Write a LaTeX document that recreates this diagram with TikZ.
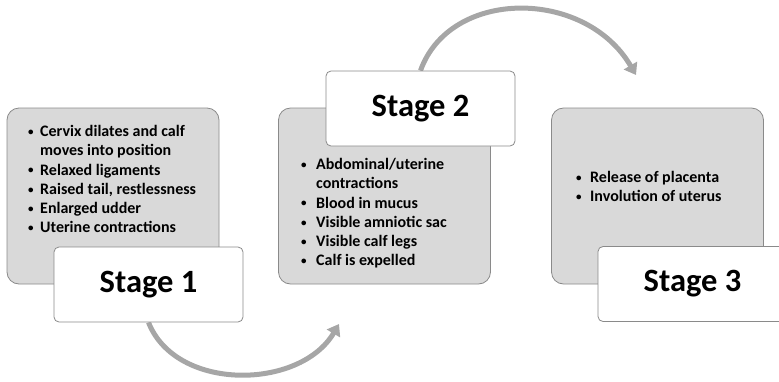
\documentclass[tikz,border=0pt]{standalone}
\usepackage{fontspec}
\setmainfont{Carlito}
\usepackage{xcolor}
\usetikzlibrary{arrows.meta,backgrounds}

\definecolor{boxgray}{HTML}{D9D9D9}
\definecolor{edgegray}{HTML}{8A8A8A}
\definecolor{arcgray}{HTML}{A6A6A6}

\newcommand{\bul}[1]{\makebox[#1][l]{\hspace*{1pt}\raisebox{1.2pt}{\fontsize{11}{11}\selectfont\textbullet}}}

\begin{document}
\begin{tikzpicture}[x=1pt,y=-1pt,
		graybox/.style={draw=edgegray, fill=boxgray, rounded corners=12pt, minimum width=212pt, minimum height=176pt, line width=0.8pt},
		stagebox/.style={draw=edgegray, fill=white, rounded corners=5pt, minimum width=189pt, minimum height=75pt, line width=0.8pt, font=\bfseries\fontsize{32.5}{36}\selectfont},
		bullets/.style={anchor=north west, inner sep=0pt, align=left, font=\bfseries\fontsize{16}{19.3}\selectfont},
		turn/.style={draw=arcgray, line width=5pt, -{Triangle[width=15pt,length=11pt]}}]
	\useasboundingbox (0,0) rectangle (779,381);
	\clip (0,0) rectangle (779,381);
	\foreach \cx/\n in {113/1,384.5/2,657.5/3} {
		\node[graybox] (g\n) at (\cx,196) {};
	}
	\node[stagebox] (s1) at (148.5,284.5) {Stage 1};
	\node[stagebox] (s2) at (420.5,108.5) {Stage 2};
	\node[stagebox] (s3) at (692.5,284) {Stage 3};
	% curved arrows
	\coordinate (e1) at (339,324);
	\coordinate (e2) at (636,75);
	\begin{scope}[on background layer]
		\draw[turn] (s1.south) .. controls (176,392) and (300,390) .. (e1);
		\draw[turn] (s2.north) .. controls (450,-12) and (585,-12) .. (e2);
	\end{scope}
	% lists
	\node[bullets] (l1) at (27,125) {\bul{13pt}Cervix dilates and calf\\\hspace*{13pt}moves into position\\
		\bul{13pt}Relaxed ligaments\\\bul{13pt}Raised tail, restlessness\\\bul{13pt}Enlarged udder\\\bul{13pt}Uterine contractions};
	\node[bullets] (l2) at (300,158) {\bul{16pt}Abdominal/uterine\\\hspace*{16pt}contractions\\
		\bul{16pt}Blood in mucus\\\bul{16pt}Visible amniotic sac\\\bul{16pt}Visible calf legs\\\bul{16pt}Calf is expelled};
	\node[bullets] (l3) at (575,171) {\bul{15pt}Release of placenta\\\bul{15pt}Involution of uterus};
\end{tikzpicture}
\end{document}
